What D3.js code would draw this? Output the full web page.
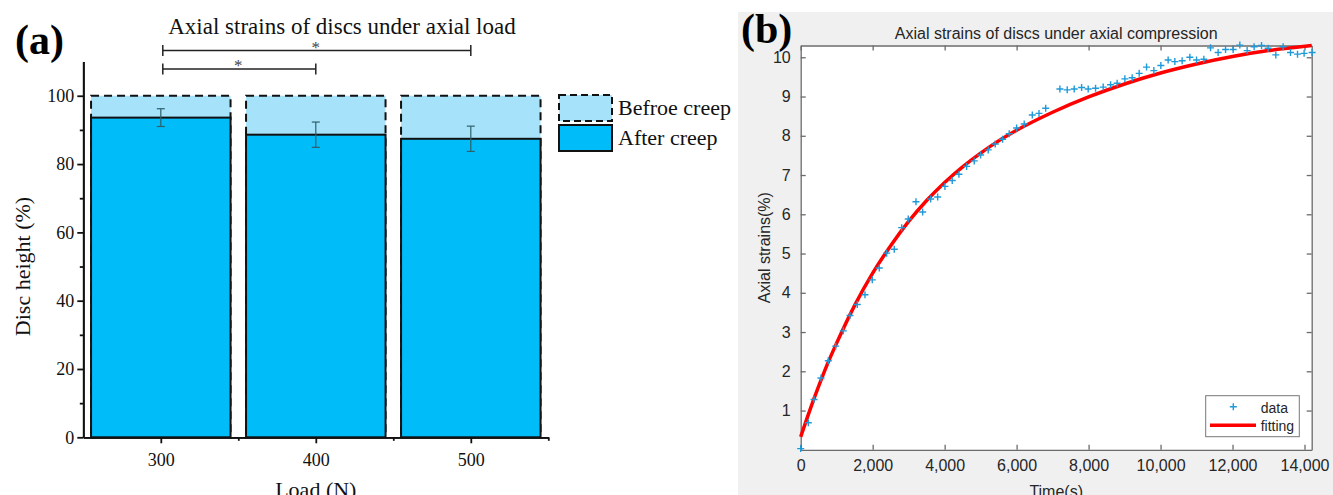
<!DOCTYPE html>
<html>
<head>
<meta charset="utf-8">
<script src="https://cdn.jsdelivr.net/npm/d3@7"></script>
<style>
  body { margin: 0; background: #fff; }
  svg { display: block; }
</style>
</head>
<body>
<div id="chart"></div>
<script>
// ---- data: panel (a) ----
const loads = [300, 400, 500];
const beforeCreep = [100, 100, 100];
const afterCreep = [93.6, 88.6, 87.4];
const afterErr = [2.6, 3.7, 3.7];
const sigFrom = [300, 300];
const sigTo = [400, 500];
const sigLabel = ["*", "*"];
const yTicksA = [0, 20, 40, 60, 80, 100];
const yMinorA = [10, 30, 50, 70, 90];
const xMinorA = [350, 450, 550];

// ---- data: panel (b) ----
const timeData = [0, 211, 370, 564, 767, 972, 1183, 1370, 1572, 1786, 1989, 2183, 2389, 2600, 2806, 2989, 3203,
  3389, 3611, 3806, 4008, 4211, 4397, 4611, 4822, 5000, 5211, 5406, 5611, 5794, 6000, 6211, 6436, 6622, 6808,
  7203, 7406, 7600, 7806, 7989, 8194, 8406, 8611, 8794, 9008, 9211, 9406, 9611, 9814, 10008, 10211, 10397, 10600,
  10814, 11000, 11203, 11389, 11600, 11806, 12017, 12203, 12406, 12600, 12806, 12989, 13203, 13406, 13611, 13806,
  13989, 14211];
const strainData = [0.03, 0.69, 1.28, 1.83, 2.27, 2.64, 3.03, 3.42, 3.70, 3.95, 4.33, 4.63, 5.01, 5.11, 5.66, 5.88, 6.32,
  6.06, 6.39, 6.44, 6.71, 6.86, 7.02, 7.22, 7.36, 7.51, 7.64, 7.79, 7.91, 8.05, 8.20, 8.30, 8.53, 8.57, 8.70,
  9.19, 9.17, 9.19, 9.23, 9.19, 9.21, 9.24, 9.30, 9.34, 9.45, 9.48, 9.59, 9.75, 9.66, 9.79, 9.93, 9.89, 9.91,
  10.0, 9.93, 9.95, 10.24, 10.12, 10.20, 10.20, 10.31, 10.17, 10.27, 10.30, 10.23, 10.06, 10.27, 10.12, 10.08,
  10.10, 10.12];
const fitTime = [0, 250, 500, 750, 1000, 1500, 2000, 2500, 3000, 3500, 4000, 4500, 5000, 5500, 6000, 7000, 8000, 9000, 10000, 11000, 12000, 13000, 14200];
const fitStrain = [0.33, 1.0, 1.62, 2.2, 2.72, 3.68, 4.5, 5.2, 5.82, 6.35, 6.81, 7.21, 7.56, 7.87, 8.14, 8.6, 8.99, 9.32, 9.6, 9.83, 10.02, 10.17, 10.3];
const xTicksB = [0, 2000, 4000, 6000, 8000, 10000, 12000, 14000];
const yTicksB = [1, 2, 3, 4, 5, 6, 7, 8, 9, 10];

const afterColor = "#00bcf8";
const beforeColor = "#a6e3fb";
const serif = "'Liberation Serif', 'Times New Roman', serif";
const sans = "'Liberation Sans', Arial, sans-serif";

const svg = d3.select("#chart").append("svg")
  .attr("width", 1333)
  .attr("height", 495);

// ================= panel (a) =================
const gA = svg.append("g");
const xA = d3.scaleLinear().domain([250, 550]).range([83.3, 548.3]);
const yA = d3.scaleLinear().domain([0, 110]).range([437.3, 61.6]);
const halfW = 45;

// before creep bars (dashed)
gA.selectAll(".before")
  .data(loads)
  .enter().append("rect")
  .attr("x", (d) => xA(d - halfW))
  .attr("width", (d) => xA(d + halfW) - xA(d - halfW))
  .attr("y", (d, i) => yA(beforeCreep[i]))
  .attr("height", (d, i) => yA(0) - yA(beforeCreep[i]))
  .attr("fill", beforeColor)
  .attr("stroke", "#111")
  .attr("stroke-width", 2)
  .attr("stroke-dasharray", "8,5");

// after creep bars
gA.selectAll(".after")
  .data(loads)
  .enter().append("rect")
  .attr("x", (d) => xA(d - halfW))
  .attr("width", (d) => xA(d + halfW) - xA(d - halfW))
  .attr("y", (d, i) => yA(afterCreep[i]))
  .attr("height", (d, i) => yA(0) - yA(afterCreep[i]))
  .attr("fill", afterColor)
  .attr("stroke", "#111")
  .attr("stroke-width", 2);

// error bars
const errG = gA.selectAll(".err")
  .data(loads)
  .enter().append("g")
  .attr("stroke", "#2f5f6a")
  .attr("stroke-width", 1.2);
errG.append("line")
  .attr("x1", (d) => xA(d)).attr("x2", (d) => xA(d))
  .attr("y1", (d, i) => yA(afterCreep[i] + afterErr[i]))
  .attr("y2", (d, i) => yA(afterCreep[i] - afterErr[i]));
errG.append("line")
  .attr("x1", (d) => xA(d) - 4).attr("x2", (d) => xA(d) + 4)
  .attr("y1", (d, i) => yA(afterCreep[i] + afterErr[i]))
  .attr("y2", (d, i) => yA(afterCreep[i] + afterErr[i]));
errG.append("line")
  .attr("x1", (d) => xA(d) - 4).attr("x2", (d) => xA(d) + 4)
  .attr("y1", (d, i) => yA(afterCreep[i] - afterErr[i]))
  .attr("y2", (d, i) => yA(afterCreep[i] - afterErr[i]));

// axes
gA.append("g")
  .attr("transform", `translate(${xA(250)},0)`)
  .call(d3.axisLeft(yA).tickValues(yTicksA).tickSize(6).tickSizeOuter(0).tickPadding(3));
gA.append("g")
  .attr("transform", `translate(${xA(250)},0)`)
  .call(d3.axisLeft(yA).tickValues(yMinorA).tickSize(3.5).tickSizeOuter(0).tickFormat(""));
gA.append("g")
  .attr("transform", `translate(0,${yA(0)})`)
  .call(d3.axisBottom(xA).tickValues(loads).tickSize(6).tickSizeOuter(0).tickPadding(10));
gA.append("g")
  .attr("transform", `translate(0,${yA(0)})`)
  .call(d3.axisBottom(xA).tickValues(xMinorA).tickSize(3.5).tickSizeOuter(0).tickFormat(""));
gA.selectAll(".domain, .tick line").attr("stroke", "#111").attr("stroke-width", 1.8);
gA.selectAll(".tick text")
  .attr("font-family", serif)
  .attr("font-size", 18)
  .attr("fill", "#111");

// significance brackets
const bracketY = [69, 50.5];
sigFrom.forEach((from, i) => {
  const y = bracketY[i];
  const g = gA.append("g").attr("stroke", "#222").attr("stroke-width", 1.5);
  g.append("line").attr("x1", xA(from) + 2).attr("x2", xA(sigTo[i])).attr("y1", y).attr("y2", y);
  g.append("line").attr("x1", xA(from) + 2).attr("x2", xA(from) + 2).attr("y1", y - 5.5).attr("y2", y + 5.5);
  g.append("line").attr("x1", xA(sigTo[i])).attr("x2", xA(sigTo[i])).attr("y1", y - 5.5).attr("y2", y + 5.5);
  gA.append("text")
    .attr("x", (xA(from) + xA(sigTo[i])) / 2)
    .attr("y", y + 2)
    .attr("text-anchor", "middle")
    .attr("font-family", serif)
    .attr("font-size", 17)
    .attr("fill", "#444")
    .text(sigLabel[i]);
});

// titles and labels
gA.append("text")
  .attr("x", 342).attr("y", 34)
  .attr("text-anchor", "middle")
  .attr("font-family", serif).attr("font-size", 23).attr("fill", "#111")
  .text("Axial strains of discs under axial load");
gA.append("text")
  .attr("x", 15).attr("y", 54)
  .attr("font-family", serif).attr("font-size", 42).attr("font-weight", "bold").attr("fill", "#000")
  .text("(a)");
gA.append("text")
  .attr("transform", `translate(30,${yA(50)}) rotate(-90)`)
  .attr("text-anchor", "middle")
  .attr("font-family", serif).attr("font-size", 22).attr("fill", "#111")
  .text("Disc height (%)");
gA.append("text")
  .attr("x", xA(400)).attr("y", 497)
  .attr("text-anchor", "middle")
  .attr("font-family", serif).attr("font-size", 22).attr("fill", "#111")
  .text("Load (N)");

// legend
const legA = gA.append("g");
const legItems = [
  { label: "Befroe creep", fill: beforeColor, dash: "7,4", y: 95 },
  { label: "After creep", fill: afterColor, dash: null, y: 125 }
];
legItems.forEach((d) => {
  legA.append("rect")
    .attr("x", 559).attr("y", d.y).attr("width", 53).attr("height", 26)
    .attr("fill", d.fill).attr("stroke", "#111").attr("stroke-width", 2)
    .attr("stroke-dasharray", d.dash);
  legA.append("text")
    .attr("x", 618).attr("y", d.y + 20)
    .attr("font-family", serif).attr("font-size", 22).attr("fill", "#111")
    .text(d.label);
});

// ================= panel (b) =================
const gB = svg.append("g");
gB.append("rect")
  .attr("x", 738).attr("y", 12).attr("width", 595).attr("height", 483)
  .attr("fill", "#f0f0f0");

const xB = d3.scaleLinear().domain([0, 14200]).range([800.7, 1311.7]);
const yB = d3.scaleLinear().domain([0, 10.3]).range([449.8, 45.5]);

gB.append("rect")
  .attr("x", xB(0)).attr("y", yB(10.3))
  .attr("width", xB(14200) - xB(0)).attr("height", yB(0) - yB(10.3))
  .attr("fill", "#fff");

const axisColor = "#6b6b6b";
const textColor = "#262626";
const bottomB = gB.append("g")
  .attr("transform", `translate(0,${yB(0)})`)
  .call(d3.axisBottom(xB).tickValues(xTicksB).tickSize(-5).tickSizeOuter(0).tickPadding(10).tickFormat(d3.format(",")));
const topB = gB.append("g")
  .attr("transform", `translate(0,${yB(10.3)})`)
  .call(d3.axisTop(xB).tickValues(xTicksB).tickSize(-5).tickSizeOuter(0).tickFormat(""));
const leftB = gB.append("g")
  .attr("transform", `translate(${xB(0)},0)`)
  .call(d3.axisLeft(yB).tickValues(yTicksB).tickSize(-5).tickSizeOuter(0).tickPadding(10));
const rightB = gB.append("g")
  .attr("transform", `translate(${xB(14200)},0)`)
  .call(d3.axisRight(yB).tickValues(yTicksB).tickSize(-5).tickSizeOuter(0).tickFormat(""));
[bottomB, topB, leftB, rightB].forEach((a) => {
  a.selectAll(".domain, .tick line").attr("stroke", axisColor).attr("stroke-width", 1.3);
  a.selectAll(".tick text")
    .attr("font-family", sans).attr("font-size", 16).attr("fill", textColor);
});

// fitting curve
const fitLine = d3.line()
  .x((d, i) => xB(fitTime[i]))
  .y((d) => yB(d))
  .curve(d3.curveMonotoneX);
gB.append("path")
  .datum(fitStrain)
  .attr("d", fitLine)
  .attr("fill", "none")
  .attr("stroke", "#ff0000")
  .attr("stroke-width", 3.5);

// data markers
const markerColor = "#1f9ad9";
gB.selectAll(".pt")
  .data(strainData)
  .enter().append("path")
  .attr("transform", (d, i) => `translate(${xB(timeData[i])},${yB(d)})`)
  .attr("d", "M-3.5,0H3.5M0,-3.5V3.5")
  .attr("stroke", markerColor)
  .attr("stroke-width", 1.4)
  .attr("fill", "none");

// titles and labels
gB.append("text")
  .attr("x", (xB(0) + xB(14200)) / 2).attr("y", 38.5)
  .attr("text-anchor", "middle")
  .attr("font-family", sans).attr("font-size", 16).attr("fill", textColor)
  .text("Axial strains of discs under axial compression");
gB.append("text")
  .attr("x", 741).attr("y", 43)
  .attr("font-family", serif).attr("font-size", 42).attr("font-weight", "bold").attr("fill", "#000")
  .text("(b)");
gB.append("text")
  .attr("transform", `translate(770,${(yB(0) + yB(10.3)) / 2}) rotate(-90)`)
  .attr("text-anchor", "middle")
  .attr("font-family", sans).attr("font-size", 16).attr("fill", textColor)
  .text("Axial strains(%)");
gB.append("text")
  .attr("x", (xB(0) + xB(14200)) / 2).attr("y", 497)
  .attr("text-anchor", "middle")
  .attr("font-family", sans).attr("font-size", 16).attr("fill", textColor)
  .text("Time(s)");

// legend
const legB = gB.append("g");
legB.append("rect")
  .attr("x", 1205.7).attr("y", 395.7).attr("width", 93.6).attr("height", 41)
  .attr("fill", "#fff").attr("stroke", "#777").attr("stroke-width", 1);
legB.append("path")
  .attr("transform", "translate(1233.3,406.7)")
  .attr("d", "M-3.5,0H3.5M0,-3.5V3.5")
  .attr("stroke", markerColor).attr("stroke-width", 1.4);
legB.append("line")
  .attr("x1", 1210).attr("x2", 1256).attr("y1", 425.3).attr("y2", 425.3)
  .attr("stroke", "#ff0000").attr("stroke-width", 3.5);
legB.append("text")
  .attr("x", 1260.7).attr("y", 412.5)
  .attr("font-family", sans).attr("font-size", 14).attr("fill", textColor)
  .text("data");
legB.append("text")
  .attr("x", 1260.7).attr("y", 430.5)
  .attr("font-family", sans).attr("font-size", 14).attr("fill", textColor)
  .text("fitting");
</script>
</body>
</html>
